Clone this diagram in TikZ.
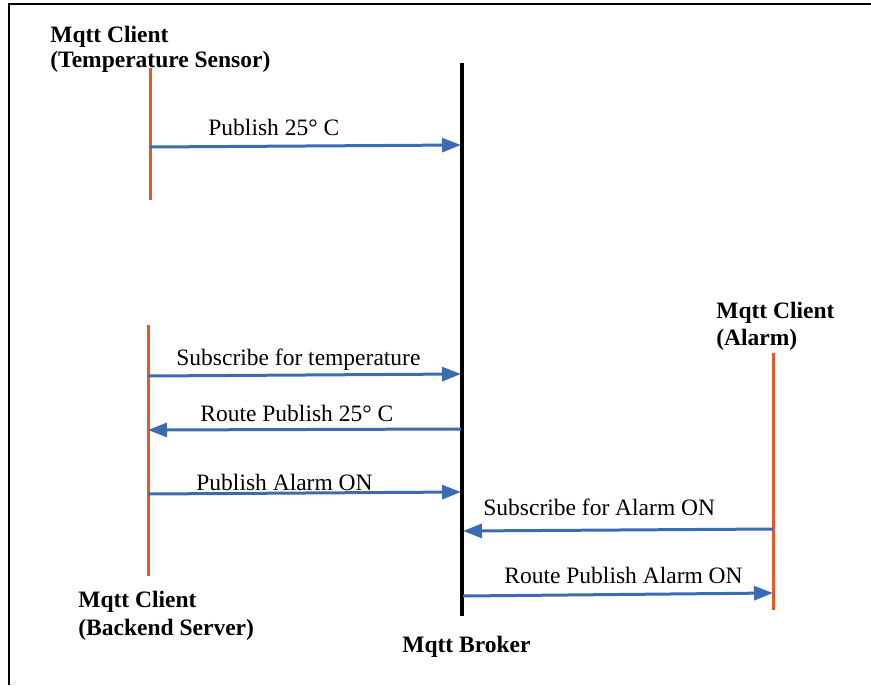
\documentclass[tikz,border=0pt]{standalone}
\usepackage{fontspec}
\setmainfont{Liberation Serif}
\usetikzlibrary{arrows.meta}
\definecolor{lifeor}{RGB}{233,87,40}
\definecolor{msgblue}{RGB}{61,107,177}
\begin{document}
\begin{tikzpicture}[x=0.5pt,y=-0.5pt,
  lifeline/.style={draw=lifeor,line width=1.5pt},
  brokerline/.style={draw=black,line width=2pt},
  msg/.style={draw=msgblue,line width=1.5pt,-{Triangle[length=9.5pt,width=7pt]}},
  actor/.style={font=\fontsize{11.75}{14}\selectfont\bfseries,inner sep=0pt,anchor=base west},
  msglabel/.style={font=\fontsize{11.75}{14}\selectfont,inner sep=0pt,anchor=base west},
]
\useasboundingbox (0,0) rectangle (871,685);
% frame
\coordinate (frBL) at (9,685);
\coordinate (frTL) at (9,4);
\coordinate (frTR) at (871,4);
\draw[line width=1.3pt] (frBL) -- (frTL) -- (frTR);

% lifelines
\coordinate (tsT) at (150,68);  \coordinate (tsB) at (150,200);
\coordinate (brT) at (462,63);  \coordinate (brB) at (462,616);
\coordinate (beT) at (148,325); \coordinate (beB) at (148,576);
\coordinate (alT) at (773,353); \coordinate (alB) at (773,610);
\draw[lifeline] (tsT) -- (tsB);
\draw[lifeline] (beT) -- (beB);
\draw[lifeline] (alT) -- (alB);
\draw[brokerline] (brT) -- (brB);

% actor labels
\node[actor] (tsA) at (50,42) {Mqtt Client};
\node[actor] (tsN) at (50,67) {(Temperature Sensor)};
\node[actor] (beA) at (78,607) {Mqtt Client};
\node[actor] (beN) at (78,635) {(Backend Server)};
\node[actor] (alA) at (716,318) {Mqtt Client};
\node[actor] (alN) at (716,345) {(Alarm)};
\node[actor] (brA) at (402,652) {Mqtt Broker};

% messages
\coordinate (m1s) at (150,147); \coordinate (m1e) at (461,145);
\coordinate (m2s) at (148,376); \coordinate (m2e) at (461,374);
\coordinate (m3s) at (461,429); \coordinate (m3e) at (148,430);
\coordinate (m4s) at (148,494); \coordinate (m4e) at (461,492);
\coordinate (m5s) at (773,529); \coordinate (m5e) at (463,531);
\coordinate (m6s) at (463,596); \coordinate (m6e) at (773,593);
\draw[msg] (m1s) -- (m1e);
\draw[msg] (m2s) -- (m2e);
\draw[msg] (m3s) -- (m3e);
\draw[msg] (m4s) -- (m4e);
\draw[msg] (m5s) -- (m5e);
\draw[msg] (m6s) -- (m6e);

\node[msglabel] (l1) at (208,135) {Publish 25° C};
\node[msglabel] (l2) at (176,365) {Subscribe for temperature};
\node[msglabel] (l3) at (200,421) {Route Publish 25° C};
\node[msglabel] (l4) at (196,490) {Publish Alarm ON};
\node[msglabel] (l5) at (483,515) {Subscribe for Alarm ON};
\node[msglabel] (l6) at (504,583) {Route Publish Alarm ON};
\end{tikzpicture}
\end{document}
